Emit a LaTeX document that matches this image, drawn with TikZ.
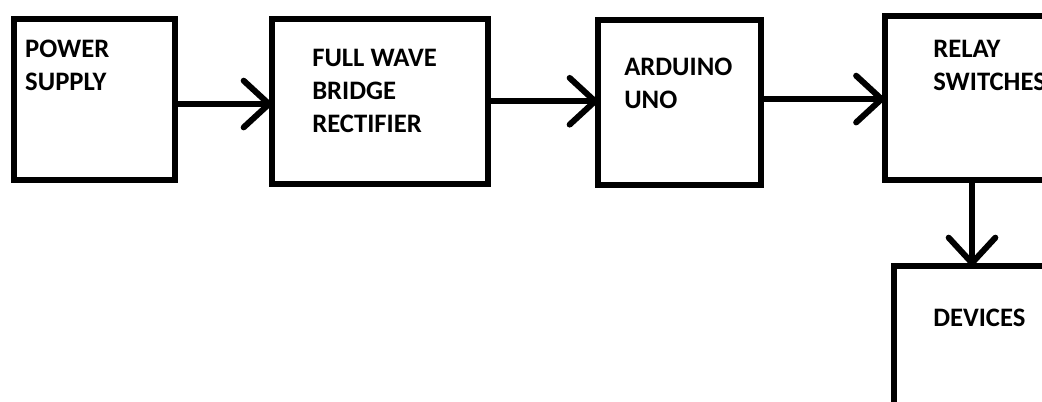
\documentclass[tikz,border=0pt]{standalone}
\usepackage{fontspec}
\setmainfont{Carlito}
\usetikzlibrary{arrows.meta,fit,positioning}

\tikzset{
  block/.style={draw=black, line width=4.5pt, inner sep=0pt, outer sep=0pt},
  blocktext/.style={font=\fontsize{20}{25}\selectfont\bfseries, align=left, inner sep=0pt},
  flow/.style={line width=4.5pt, -{Straight Barb[length=19pt, width=35pt, round]}}
}

\begin{document}
\begin{tikzpicture}[x=0.75pt, y=-0.75pt]
			\useasboundingbox (0,0) rectangle (1042,401);
			\clip (0,0) rectangle (1042,401);
			%%%%% START %%%%%
			
			\node[block, fit={(13.5,19) (175,180)}] (ps) {};
			\node[blocktext, below right=15.5pt and 8.6pt of ps.north west] (pstext) {POWER\\SUPPLY};
			
			\node[block, fit={(272,19) (487.5,183.5)}] (fw) {};
			\node[blocktext, below right=22.2pt and 30pt of fw.north west] (fwtext) {FULL WAVE\\BRIDGE\\RECTIFIER};
			
			\node[block, fit={(598,19.5) (761,184.5)}] (ar) {};
			\node[blocktext, below right=28.6pt and 19.5pt of ar.north west] (artext) {ARDUINO\\UNO};
			
			\node[block, fit={(884.5,15.5) (1059.5,180)}] (rs) {};
			\node[blocktext, below right=18.1pt and 36.4pt of rs.north west] (rstext) {RELAY\\SWITCHES};
			
			\node[block, fit={(894,266) (1050,440)}] (dv) {};
			\node[blocktext, below right=32pt and 29.25pt of dv.north west] (dvtext) {DEVICES};
			
			%%%%% ARROWS %%%%%
			
			\draw[flow] ([yshift=-3.4pt]ps.east) -- ([yshift=-3.4pt]ps.east -| fw.west);
			\draw[flow] (fw.east) -- (fw.east -| ar.west);
			\draw[flow] ([yshift=2.2pt]ar.east) -- ([yshift=2.2pt]ar.east -| rs.west);
			\draw[flow] (rs.south) -- (dv.north);
			
			%%%%% END %%%%%
\end{tikzpicture}
\end{document}
